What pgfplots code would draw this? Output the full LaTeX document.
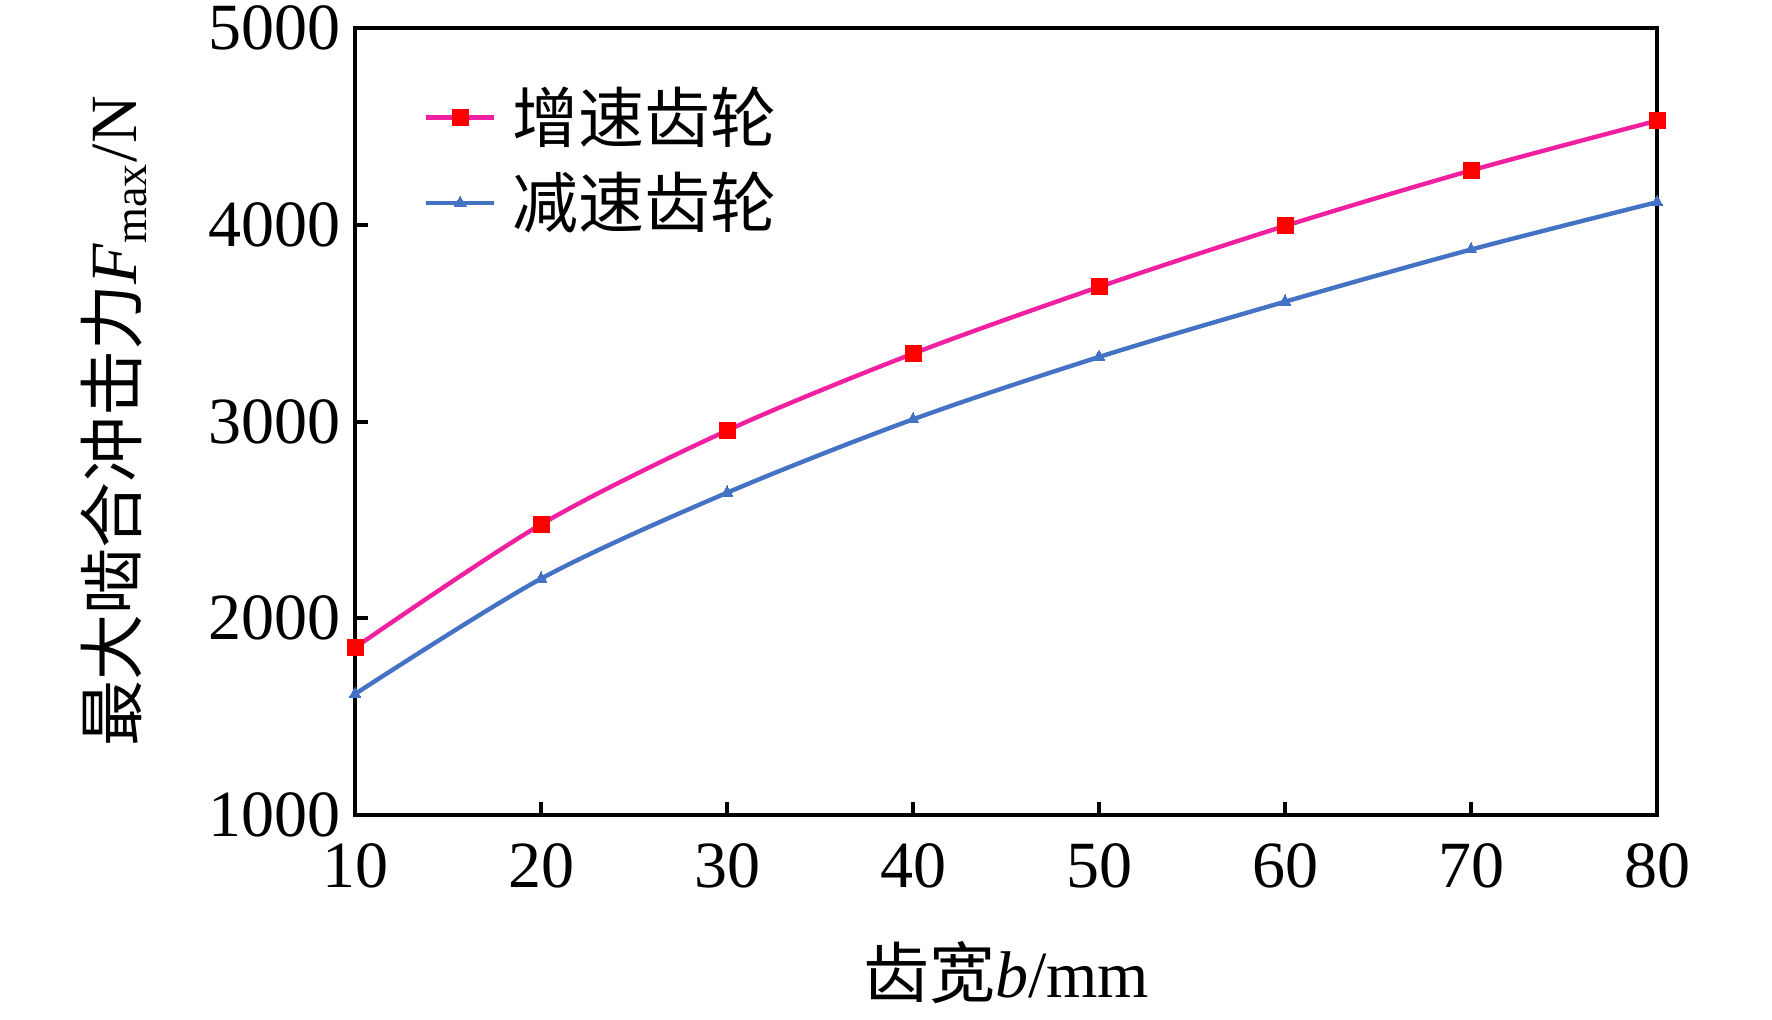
\documentclass[border=0pt]{standalone}
\usepackage{fontspec}
\setmainfont{Liberation Serif}
\newfontfamily\cjk{Noto Sans CJK SC}
\usepackage{pgfplots}
\pgfplotsset{compat=1.18}
\definecolor{pinkline}{HTML}{F020A0}
\definecolor{blueline}{HTML}{4472C4}
\begin{document}
\begin{tikzpicture}
\path[use as bounding box] (-88.75pt,-51pt) rectangle (354.25pt,203.75pt);
\begin{axis}[
  scale only axis,
  width=325.5pt, height=196.75pt,
  xmin=10, xmax=80, ymin=1000, ymax=5000,
  xtick={10,20,...,80}, ytick={1000,2000,...,5000},
  tick pos=left, tick align=inside,
  major tick length=3.3pt,
  axis line style={line width=1pt},
  every tick/.style={black, line width=1pt},
  /pgf/number format/1000 sep={},
  /pgf/number format/assume math mode=true,
  tick label style={font=\fontsize{16.5}{20}\selectfont},
  xticklabel style={yshift=-3.5pt},
  xlabel={{\cjk 齿宽}\textit{b}/mm},
  ylabel={{\cjk 最大啮合冲击力}\textit{F}\textsubscript{max}/N},
  every axis x label/.style={at={([yshift=-39.5pt]axis description cs:0.5,0)}, anchor=center, font=\fontsize{16.5}{20}\selectfont},
  every axis y label/.style={at={([xshift=-60.25pt]axis description cs:0,0.5)}, rotate=90, anchor=center, font=\fontsize{16.5}{20}\selectfont},
  legend style={draw=none, fill=none, font=\fontsize{16.5}{20}\selectfont,
    at={(axis description cs:0.043,0.947)}, anchor=north west, row sep=2pt},
  legend cell align=left,
]
\addplot[pinkline, line width=1.1pt, smooth, mark=square*, mark size=2pt, mark options={fill=red, draw=red, line width=0pt}]
coordinates {(10,1851) (20,2477) (30,2954) (40,3345) (50,3684) (60,3994) (70,4276) (80,4529)};
\addlegendentry{\hspace*{2pt}\cjk 增速齿轮}
\addplot[blueline, line width=1.1pt, smooth, mark=triangle*, mark size=1.7pt, mark options={fill=blueline, draw=blueline, line width=0pt}]
coordinates {(10,1615) (20,2201) (30,2638) (40,3011) (50,3328) (60,3609) (70,3874) (80,4115)};
\addlegendentry{\hspace*{2pt}\cjk 减速齿轮}
\end{axis}
\end{tikzpicture}
\end{document}
